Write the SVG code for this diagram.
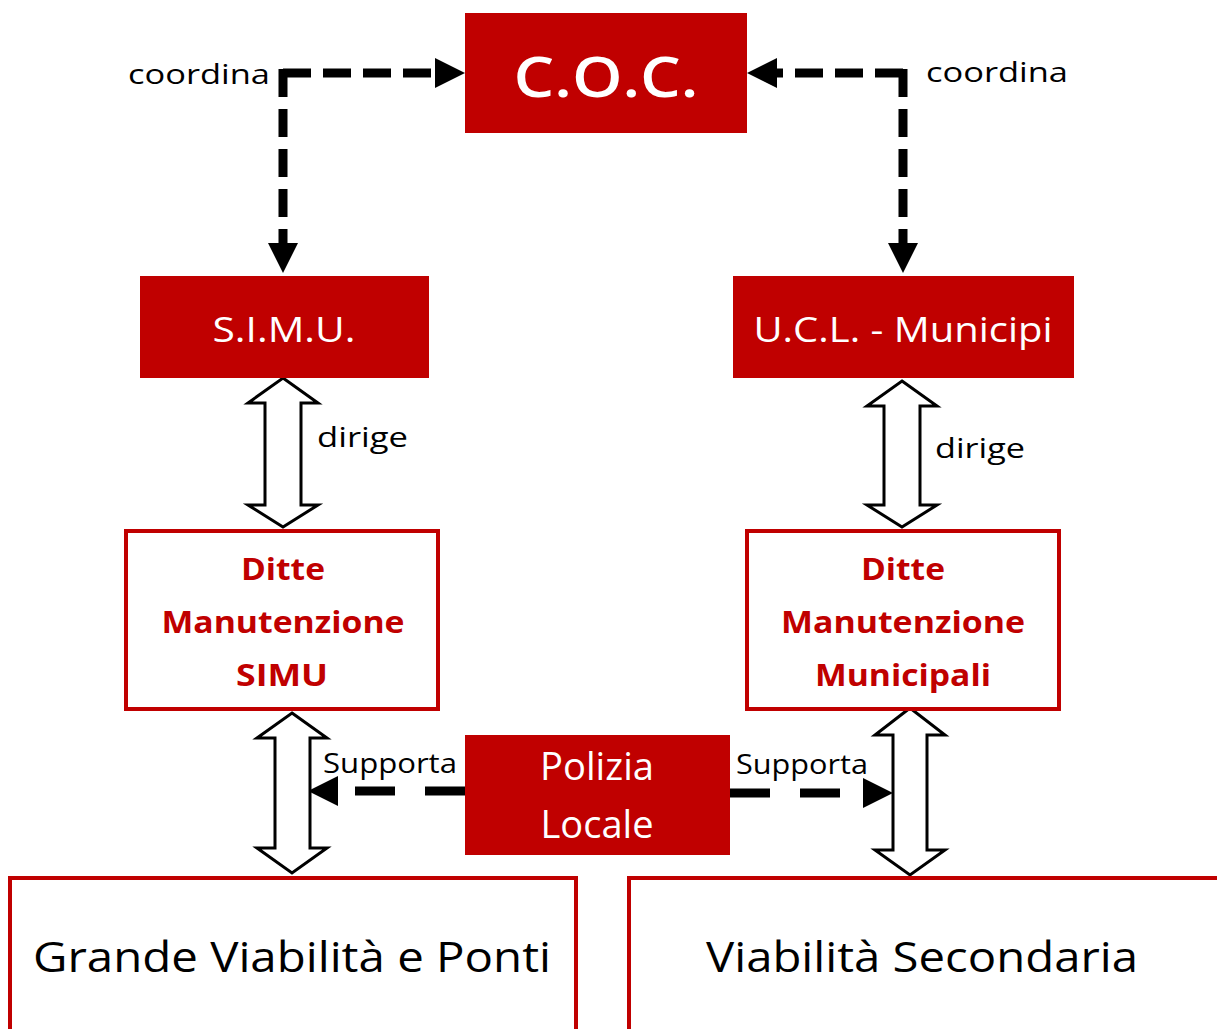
<svg xmlns="http://www.w3.org/2000/svg" width="1217" height="1029" viewBox="0 0 1217 1029">
<defs>
<style>
.fill{fill:#C00000;}
.out{fill:#fff;stroke:#C00000;stroke-width:4;}
.wt{fill:#fff;font-family:"Open Sans","Noto Sans",sans-serif;text-anchor:middle;}
.rt{fill:#C00000;font-family:"Open Sans","Noto Sans",sans-serif;font-weight:bold;text-anchor:middle;font-size:30px;}
.bt{fill:#000;font-family:"Open Sans","Noto Sans",sans-serif;}
.dash1{fill:none;stroke:#000;stroke-width:9;stroke-dasharray:28 12;}
.dash2{fill:none;stroke:#000;stroke-width:9;stroke-dasharray:40 30;}
.dbl{fill:#fff;stroke:#000;stroke-width:3;stroke-linejoin:miter;}
</style>
<marker id="ah" viewBox="0 0 30 30" refX="0" refY="15" markerWidth="30" markerHeight="30" markerUnits="userSpaceOnUse" orient="auto">
<path d="M0,0 L30,15 L0,30 Z" fill="#000"/>
</marker>
</defs>
<rect width="1217" height="1029" fill="#fff"/>
<g id="connectors">
<path class="dash1" d="M283,73 L435,73" marker-end="url(#ah)"/>
<path class="dash1" d="M283,69 L283,243" marker-end="url(#ah)"/>
<path class="dash1" d="M903,73 L777,73" marker-end="url(#ah)"/>
<path class="dash1" d="M903,69 L903,243" marker-end="url(#ah)"/>
<path class="dash2" d="M465,791 L338,791" marker-end="url(#ah)"/>
<path class="dash2" d="M730,793 L863,793" marker-end="url(#ah)"/>
<path class="dbl" d="M283,378 L318,403 L301,403 L301,505 L318,505 L283,527 L248,505 L265,505 L265,403 L248,403 Z"/>
<path class="dbl" d="M902,381 L937,406 L920,406 L920,505 L937,505 L902,527 L867,505 L884,505 L884,406 L867,406 Z"/>
<path class="dbl" d="M292,713 L327,738 L310,738 L310,848 L327,848 L292,873 L257,848 L275,848 L275,738 L257,738 Z"/>
<path class="dbl" d="M910,708 L945,735 L927,735 L927,850 L945,850 L910,875 L875,850 L893,850 L893,735 L875,735 Z"/>
<text class="bt" x="128" y="84" font-size="28" textLength="142" lengthAdjust="spacingAndGlyphs">coordina</text>
<text class="bt" x="926" y="82" font-size="28" textLength="142" lengthAdjust="spacingAndGlyphs">coordina</text>
<text class="bt" x="317" y="447" font-size="28" textLength="91" lengthAdjust="spacingAndGlyphs">dirige</text>
<text class="bt" x="935" y="458" font-size="28" textLength="90" lengthAdjust="spacingAndGlyphs">dirige</text>
<text class="bt" x="323" y="773" font-size="27" textLength="134" lengthAdjust="spacingAndGlyphs">Supporta</text>
<text class="bt" x="736" y="774" font-size="27" textLength="132" lengthAdjust="spacingAndGlyphs">Supporta</text>
</g>
<g id="coc">
<rect class="fill" x="465" y="13" width="282" height="120"/>
<text class="wt" x="606" y="97" font-size="56" font-weight="600" textLength="185" lengthAdjust="spacingAndGlyphs">C.O.C.</text>
</g>
<g id="simu">
<rect class="fill" x="140" y="276" width="289" height="102"/>
<text class="wt" x="284" y="342" font-size="34" textLength="143" lengthAdjust="spacingAndGlyphs">S.I.M.U.</text>
</g>
<g id="ucl">
<rect class="fill" x="733" y="276" width="341" height="102"/>
<text class="wt" x="903" y="342" font-size="34" textLength="299" lengthAdjust="spacingAndGlyphs">U.C.L. - Municipi</text>
</g>
<g id="ditte-simu">
<rect class="out" x="126" y="531" width="312" height="178"/>
<text class="rt" x="283" y="580" textLength="84" lengthAdjust="spacingAndGlyphs">Ditte</text>
<text class="rt" x="283" y="633" textLength="243" lengthAdjust="spacingAndGlyphs">Manutenzione</text>
<text class="rt" x="282" y="686" textLength="92" lengthAdjust="spacingAndGlyphs">SIMU</text>
</g>
<g id="ditte-municipali">
<rect class="out" x="747" y="531" width="312" height="178"/>
<text class="rt" x="903" y="580" textLength="84" lengthAdjust="spacingAndGlyphs">Ditte</text>
<text class="rt" x="903" y="633" textLength="244" lengthAdjust="spacingAndGlyphs">Manutenzione</text>
<text class="rt" x="903" y="686" textLength="176" lengthAdjust="spacingAndGlyphs">Municipali</text>
</g>
<g id="polizia">
<rect class="fill" x="465" y="735" width="265" height="120"/>
<text class="wt" x="597" y="780" font-size="38" textLength="114" lengthAdjust="spacingAndGlyphs">Polizia</text>
<text class="wt" x="597" y="838" font-size="38" textLength="113" lengthAdjust="spacingAndGlyphs">Locale</text>
</g>
<g id="grande">
<rect class="out" x="10" y="878" width="566" height="160"/>
<text class="bt" x="292" y="972" font-size="42" text-anchor="middle" textLength="518" lengthAdjust="spacingAndGlyphs">Grande Viabilità e Ponti</text>
</g>
<g id="secondaria">
<rect class="out" x="629" y="878" width="590" height="160"/>
<text class="bt" x="922" y="972" font-size="42" text-anchor="middle" textLength="432" lengthAdjust="spacingAndGlyphs">Viabilità Secondaria</text>
</g>
</svg>
